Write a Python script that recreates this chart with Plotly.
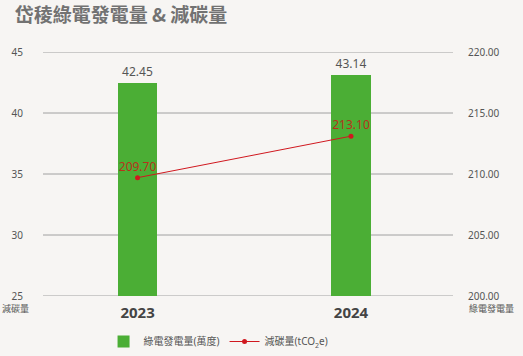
import plotly.graph_objects as go

years = ["2023", "2024"]
power = [42.45, 43.14]          # 綠電發電量(萬度)
carbon = [209.70, 213.10]       # 減碳量(tCO2e)
left_ticks = [25, 30, 35, 40, 45]
right_ticks = [200, 205, 210, 215, 220]

xpos = list(range(len(years)))
BG = "#f7f5f3"
FONT = "Noto Sans, Noto Sans CJK TC, sans-serif"

fig = go.Figure()
fig.add_trace(go.Bar(
    x=xpos, y=power, width=0.185, name="綠電發電量(萬度)",
    marker=dict(color="#4bae35", line=dict(width=0)),
    text=[f"{v:.2f}" for v in power], textposition="outside",
    textfont=dict(color="#555555", size=12, family=FONT),
    cliponaxis=False, yaxis="y",
))
fig.add_trace(go.Scatter(
    x=xpos, y=carbon, name="減碳量(tCO<sub>2</sub>e)", mode="lines+markers+text",
    line=dict(color="#d0181f", width=1),
    marker=dict(color="#d0181f", size=5),
    text=[f"{v:.2f}" for v in carbon], textposition="top center",
    textfont=dict(color="#b8321c", size=12, family=FONT),
    yaxis="y2", cliponaxis=False,
))

for t in left_ticks:
    fig.add_shape(type="line", xref="paper", x0=0, x1=1, yref="y", y0=t, y1=t,
                  line=dict(color="#a0a0a0", width=1), layer="below")

fig.update_layout(
    width=523, height=356,
    paper_bgcolor=BG, plot_bgcolor=BG,
    margin=dict(l=43, r=70, t=52, b=60, autoexpand=False),
    font=dict(family=FONT, color="#555555"),
    title=dict(text="<b>岱稜綠電發電量 & 減碳量</b>", x=0.028, xanchor="left",
               y=0.957, yanchor="middle",
               font=dict(size=19, color="#727272", family="Noto Sans CJK TC, sans-serif")),
    xaxis=dict(range=[-0.443, 1.478], tickvals=xpos, ticktext=[f"<b>{y}</b>" for y in years],
               showgrid=False, zeroline=False, showline=False,
               tickfont=dict(size=15, color="#444444", family=FONT),
               ticks="outside", ticklen=3, tickcolor=BG),
    yaxis=dict(range=[25, 45], tickvals=left_ticks, showgrid=False,
               zeroline=False, showline=False,
               tickfont=dict(size=10, color="#555555", family=FONT),
               ticks="outside", ticklen=17, tickcolor=BG),
    yaxis2=dict(range=[200, 220], tickvals=right_ticks, ticktext=[f"{v:.2f}" for v in right_ticks],
                overlaying="y", side="right", showgrid=False, zeroline=False, showline=False,
                tickfont=dict(size=10, color="#555555", family=FONT),
                ticks="outside", ticklen=12, tickcolor=BG),
    showlegend=True,
    legend=dict(orientation="h", x=0.198, xref="container", y=0.0, yref="container",
                xanchor="left", yanchor="bottom",
                font=dict(size=10, color="#555555", family=FONT),
                bgcolor="rgba(0,0,0,0)", itemwidth=30, tracegroupgap=0),
    bargap=0,
)

fig.add_annotation(text="減碳量", xref="paper", yref="paper", x=-0.105, y=-0.05,
                   xanchor="left", yanchor="middle", showarrow=False,
                   font=dict(size=9, color="#555555", family="Noto Sans CJK TC, sans-serif"))
fig.add_annotation(text="綠電發電量", xref="paper", yref="paper", x=1.034, y=-0.05,
                   xanchor="left", yanchor="middle", showarrow=False,
                   font=dict(size=9, color="#555555", family="Noto Sans CJK TC, sans-serif"))

fig.write_html("out.html", config={"displayModeBar": False},
               post_script="document.body.style.margin='0';document.body.style.overflow='hidden';")
